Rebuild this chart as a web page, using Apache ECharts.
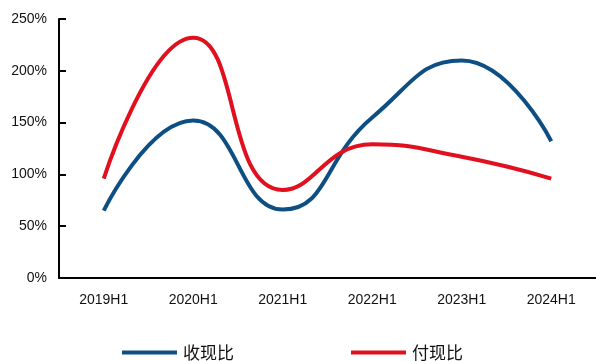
<!DOCTYPE html>
<html>
<head>
<meta charset="utf-8">
<script src="https://cdn.jsdelivr.net/npm/echarts@6/dist/echarts.min.js"></script>
<style>
  html, body { margin: 0; padding: 0; background: #fff; }
  #main { width: 596px; height: 361px; }
</style>
</head>
<body>
<div id="main"></div>
<script>
// 类目
var categories = ['2019H1', '2020H1', '2021H1', '2022H1', '2023H1', '2024H1'];
// 收现比 (%)
var shouxian = [65, 152, 66, 155, 210, 132];
// 付现比 (%)
var fuxian = [96, 232, 85, 129, 117, 96];

var chart = echarts.init(document.getElementById('main'), null, { renderer: 'canvas' });

var option = {
  animation: false,
  backgroundColor: '#fff',
  textStyle: { fontFamily: '"Liberation Sans", "Noto Sans CJK SC", sans-serif' },
  legend: {
    data: ['收现比', '付现比'],
    bottom: -5,
    left: 117,
    itemGap: 117,
    itemWidth: 55,
    itemHeight: 4,
    icon: 'rect',
    textStyle: { fontSize: 17, color: '#111', padding: [0, 0, 0, 1], fontFamily: '"Noto Sans CJK SC", sans-serif' }
  },
  grid: {
    left: 59,
    top: 19,
    width: 542,
    bottom: 83,
    containLabel: false
  },
  xAxis: {
    type: 'category',
    data: categories,
    boundaryGap: true,
    axisLine: { lineStyle: { color: '#000', width: 2 } },
    axisTick: { inside: true, length: 7, lineStyle: { color: '#000', width: 2 } },
    axisLabel: { color: '#111', fontSize: 14, margin: 15 }
  },
  yAxis: {
    type: 'value',
    min: 0,
    max: 250,
    interval: 50,
    axisLine: { show: true, lineStyle: { color: '#000', width: 2 } },
    axisTick: { show: true, inside: true, length: 7, lineStyle: { color: '#000', width: 2 } },
    splitLine: { show: false },
    axisLabel: { color: '#111', fontSize: 14, margin: 12, formatter: '{value}%' }
  },
  series: [
    {
      name: '收现比',
      type: 'line',
      data: shouxian,
      smooth: 0.5,
      symbol: 'none',
      lineStyle: { color: '#0e4f83', width: 4 },
      itemStyle: { color: '#0e4f83' }
    },
    {
      name: '付现比',
      type: 'line',
      data: fuxian,
      smooth: 0.5,
      symbol: 'none',
      lineStyle: { color: '#e0101f', width: 4 },
      itemStyle: { color: '#e0101f' }
    }
  ]
};

chart.setOption(option);
</script>
</body>
</html>
